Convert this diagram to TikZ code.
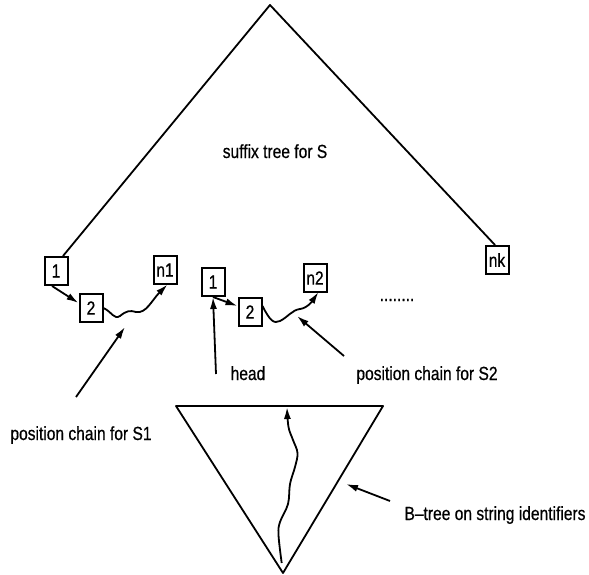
\documentclass[tikz,border=0pt]{standalone}
\usepackage{fontspec}
\setmainfont{Liberation Sans}[FakeStretch=0.82,FakeBold=0.6]
\usetikzlibrary{arrows.meta}
\begin{document}
\begin{tikzpicture}[x=1pt,y=-1pt,
  every node/.style={font=\fontsize{19}{22}\selectfont},
  edge/.style={line width=1.8pt, line join=round},
  cell/.style={draw, line width=2pt, minimum width=23pt, minimum height=28pt, inner sep=0pt},
  lbl/.style={anchor=base, inner sep=0pt},
  arr/.style={line width=1.8pt, -{Latex[length=12pt,width=7pt]}},
  wave/.style={line width=1.8pt, -{Latex[length=12pt,width=7pt]}}]
\useasboundingbox (0,0) rectangle (589,575);
% suffix tree (big triangle)
\coordinate (apex) at (270,5);
\node[cell] (a1) at (56,271) {1};
\node[cell] (a2) at (91,308) {2};
\node[cell] (an1) at (165,270) {n1};
\node[cell] (b1) at (213,282) {1};
\node[cell] (b2) at (250,312) {2};
\node[cell] (bn2) at (315,278) {n2};
\node[cell] (nk) at (497,260) {nk};
\draw[edge] ([xshift=7pt]a1.north) -- (apex) -- ([xshift=-2pt]nk.north);
\node[lbl] (st) at (275,158) {suffix tree for S};
\node[lbl] (dots) at (397,301) {........};
% chain S1
\draw[arr] ([xshift=-4pt]a1.south) -- ([yshift=5pt]a2.west);
\draw[wave] (a2.east) .. controls (112,312) and (114,320) .. (120,316)
  .. controls (126,311) and (130,310) .. (136,312)
  .. controls (146,314) and (152,300) .. (167.5,284.5);
% chain S2
\draw[arr] (b1.south) -- ([yshift=6pt]b2.west);
\draw[wave] ([yshift=6pt]b2.east) .. controls (270,321) and (274,324) .. (280,321)
  .. controls (288,317) and (292,310) .. (300,309)
  .. controls (308,308) and (313,300) .. (318.5,292);
% labels with arrows
\node[lbl] (ls1) at (81,440) {position chain for S1};
\coordinate (s1from) at (76,397);
\coordinate (s1to) at (125,327);
\draw[arr] (s1from) -- (s1to);
\node[lbl] (head) at (248,380) {head};
\coordinate (hfrom) at (216,374);
\draw[arr] (hfrom) -- (b1.south);
\node[lbl] (ls2) at (427,380) {position chain for S2};
\coordinate (s2from) at (344,356);
\coordinate (s2to) at (297,316);
\draw[arr] (s2from) -- (s2to);
% B-tree
\coordinate (tl) at (176,406);
\coordinate (tr) at (383,406);
\coordinate (tb) at (283,573);
\draw[edge] (tl) -- (tr) -- (tb) -- cycle;
\draw[wave] plot[smooth, tension=0.6] coordinates {(281.7,563) (278.5,535) (280,522) (288,504) (290,484) (295,467) (297.5,453) (293,440) (288.5,427) (287,407)};
\node[lbl] (lb) at (495,520) {B–tree on string identifiers};
\coordinate (bfrom) at (390,501);
\coordinate (bto) at (346,484);
\draw[arr] (bfrom) -- (bto);
\end{tikzpicture}
\end{document}
